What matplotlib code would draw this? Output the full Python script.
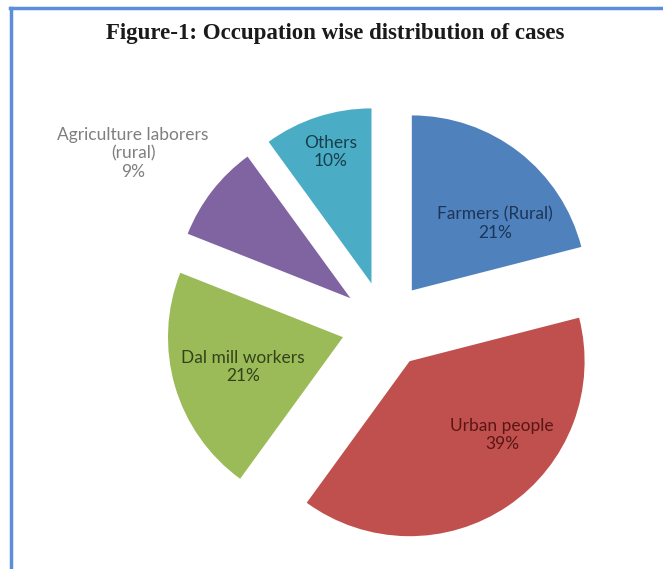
import matplotlib.pyplot as plt
from matplotlib.lines import Line2D

# occupation groups, clockwise from the top
occupations = ["Farmers (Rural)", "Urban people", "Dal mill workers",
               "Agriculture laborers\n(rural)", "Others"]
shares = [21, 39, 21, 9, 10]

colors = ["#4F81BD", "#C0504D", "#9BBB59", "#8064A2", "#4BACC6"]
text_colors = ["#1d3557", "#5a1614", "#34421a", "#7f7f7f", "#173f4a"]
# label centres in pie units (radius = 1)
label_xy = [(0.63, 0.58), (0.67, -0.63), (-0.81, -0.24), (-1.44, 0.98), (-0.31, 0.99)]

fig = plt.figure(figsize=(6.63, 5.69), dpi=100)
ax = fig.add_axes([0, 0, 1, 1])

wedges, _ = ax.pie(shares, colors=colors, startangle=90, counterclock=False,
                   explode=[0.25] * len(shares), radius=1.0,
                   wedgeprops=dict(linewidth=0))

for name, val, (x, y), tc in zip(occupations, shares, label_xy, text_colors):
    ax.text(x, y, f"{name}\n{val}%", ha="center", va="center", fontsize=12.5,
            color=tc, family="Lato", linespacing=1.15)

# 175 px per unit, pie centre at (385, 325) px from top-left
ax.set_aspect("auto")
ax.set_xlim(-385 / 175, (663 - 385) / 175)
ax.set_ylim(-(569 - 325) / 175, 325 / 175)
ax.axis("off")

fig.text(0.506, 0.942, "Figure-1: Occupation wise distribution of cases",
         ha="center", va="center", fontsize=16.5, fontweight="bold",
         family="Liberation Serif", color="#1a1a1a")

# blue frame on the top and left
fig.add_artist(Line2D([10 / 663, 1], [1 - 8 / 569, 1 - 8 / 569],
                      color="#5B8FD9", lw=2.5, transform=fig.transFigure))
fig.add_artist(Line2D([11 / 663, 11 / 663], [0, 1 - 8 / 569],
                      color="#5B8FD9", lw=2.5, transform=fig.transFigure))

plt.savefig("out.png", dpi=100)
